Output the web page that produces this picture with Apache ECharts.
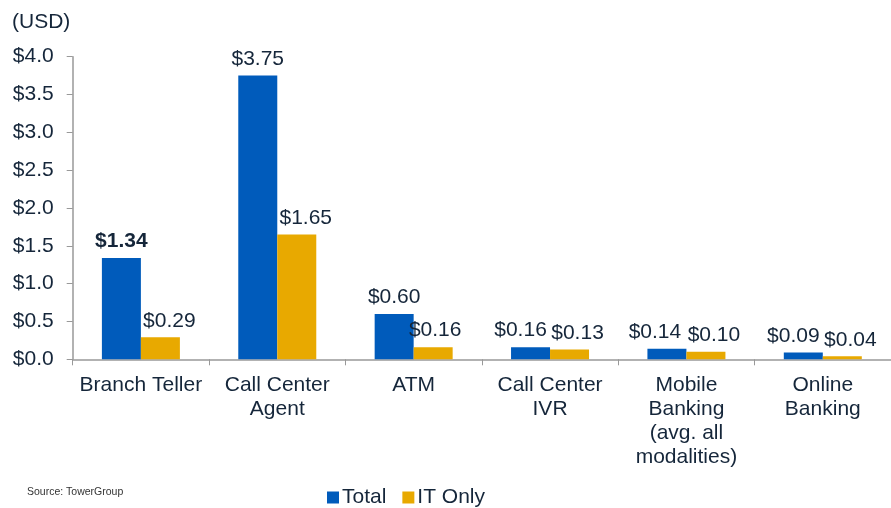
<!DOCTYPE html>
<html>
<head>
<meta charset="utf-8">
<script src="https://cdn.jsdelivr.net/npm/echarts@6/dist/echarts.min.js"></script>
<style>
  html, body { margin: 0; padding: 0; background: #fff; }
  #chart { width: 891px; height: 508px; }
</style>
</head>
<body>
<div id="chart"></div>
<script>
// cost per transaction by channel
const categories = [
  'Branch Teller',
  'Call Center\nAgent',
  'ATM',
  'Call Center\nIVR',
  'Mobile\nBanking\n(avg. all\nmodalities)',
  'Online\nBanking'
];
const totalValues = [1.34, 3.75, 0.60, 0.16, 0.14, 0.09];
const itOnlyValues = [0.29, 1.65, 0.16, 0.13, 0.10, 0.04];
const yTicks = [0, 0.5, 1.0, 1.5, 2.0, 2.5, 3.0, 3.5, 4.0];

const textColor = '#15263a';
const font = 'Liberation Sans, Arial, sans-serif';

// nudge labels sideways so neighbours don't collide (like the original)
const totalShift = [0, 0, 0, -10, -12, -10];
const itShift = [9, 9, 2, 8, 8, 8];

const fmt = v => '$' + v.toFixed(2);

const chart = echarts.init(document.getElementById('chart'));

const option = {
  animation: false,
  textStyle: { fontFamily: font, color: textColor },
  title: [
    {
      text: '(USD)',
      left: 7, top: 7,
      textStyle: { fontSize: 21, fontWeight: 'normal', color: textColor, fontFamily: font }
    },
    {
      text: 'Source: TowerGroup',
      left: 22, top: 482,
      textStyle: { fontSize: 10.5, fontWeight: 'normal', color: '#333', fontFamily: font }
    }
  ],
  legend: {
    data: ['Total', 'IT Only'],
    left: 322, top: 482,
    icon: 'rect',
    itemWidth: 12, itemHeight: 12,
    itemGap: 16,
    textStyle: { fontSize: 21, color: textColor, fontFamily: font, padding: [0, 0, 0, -2] }
  },
  grid: { left: 72.7, top: 56.7, width: 830, bottom: 148.7 },
  xAxis: {
    type: 'category',
    data: categories,
    axisLine: { lineStyle: { color: '#999', width: 1.5 } },
    axisTick: { show: true, length: 6, lineStyle: { color: '#999' } },
    axisLabel: {
      interval: 0,
      margin: 14,
      fontSize: 21,
      lineHeight: 24,
      color: textColor,
      fontFamily: font
    }
  },
  yAxis: {
    type: 'value',
    min: 0, max: 4, interval: 0.5,
    axisLine: { show: true, lineStyle: { color: '#999', width: 1.5 } },
    axisTick: { show: true, length: 6, lineStyle: { color: '#999' } },
    splitLine: { show: false },
    axisLabel: {
      margin: 19,
      fontSize: 21,
      color: textColor,
      fontFamily: font,
      formatter: v => yTicks.indexOf(v) >= 0 ? '$' + v.toFixed(1) : ''
    }
  },
  series: [
    {
      name: 'Total',
      type: 'bar',
      barWidth: 39,
      barGap: '0%',
      itemStyle: { color: '#005bbb' },
      data: totalValues.map((v, i) => ({
        value: v,
        label: {
          offset: [totalShift[i], 0],
          fontWeight: i === 0 ? 'bold' : 'normal'
        }
      })),
      label: {
        show: true, position: 'top', distance: 6,
        fontSize: 21, color: textColor, fontFamily: font,
        formatter: p => fmt(p.value)
      }
    },
    {
      name: 'IT Only',
      type: 'bar',
      barWidth: 39,
      barGap: '0%',
      itemStyle: { color: '#e8a900' },
      data: itOnlyValues.map((v, i) => ({
        value: v,
        label: { offset: [itShift[i], 0] }
      })),
      label: {
        show: true, position: 'top', distance: 6,
        fontSize: 21, color: textColor, fontFamily: font,
        formatter: p => fmt(p.value)
      }
    }
  ]
};

chart.setOption(option);
</script>
</body>
</html>
